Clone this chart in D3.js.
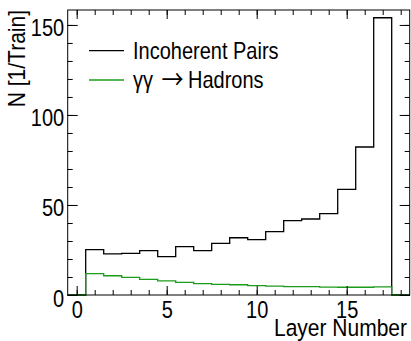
<!DOCTYPE html>
<html>
<head>
<meta charset="utf-8">
<script src="https://cdnjs.cloudflare.com/ajax/libs/d3/7.8.5/d3.min.js"></script>
<style>
  body { margin: 0; background: #fff; }
  text { font-family: "Liberation Sans", Arial, sans-serif; fill: #000; }
</style>
</head>
<body>
<script>
// Histogram contents per layer (bins 0..18)
var layers = [0, 1, 2, 3, 4, 5, 6, 7, 8, 9, 10, 11, 12, 13, 14, 15, 16, 17, 18];
var incoherent = [0, 25.2, 22.8, 23.1, 24.6, 21.3, 26.9, 24.6, 28.7, 31.8, 30.8, 35.2, 41.3, 42.2, 45.2, 58.7, 82.2, 154, 0];
var hadrons = [0, 11.9, 10.7, 9.8, 8.7, 7.8, 7.0, 6.3, 5.9, 5.7, 5.2, 4.9, 4.7, 4.6, 4.4, 4.3, 4.3, 4.5, 0];
var xTicks = [0, 5, 10, 15];
var yTicks = [0, 50, 100, 150];
var legendNames = ["Incoherent Pairs", "Hadrons"];

var svgWidth = 411;
var svgHeight = 341;
var margin = { top: 10, right: 1.3, bottom: 46, left: 67.7 };
var width = svgWidth - margin.left - margin.right;
var height = svgHeight - margin.top - margin.bottom;

var green = "#1a9c1a";
var stretch = 1.17; // text in the picture is a bit taller than wide

var svg = d3.select("body")
  .append("svg")
  .attr("width", svgWidth)
  .attr("height", svgHeight);

var chartGroup = svg.append("g")
  .attr("transform", `translate(${margin.left}, ${margin.top})`);

var xScale = d3.scaleLinear().domain([-0.5, 18.5]).range([0, width]);
var yScale = d3.scaleLinear().domain([0, 158.3]).range([height, 0]);

// step line through bin edges
function stepLine(values) {
  var pts = layers.map((l, i) => [l - 0.5, values[i]]);
  pts.push([layers[layers.length - 1] + 0.5, values[values.length - 1]]);
  return d3.line()
    .x(d => xScale(d[0]))
    .y(d => yScale(d[1]))
    .curve(d3.curveStepAfter)(pts);
}

chartGroup.append("path")
  .attr("d", stepLine(incoherent))
  .attr("fill", "none")
  .attr("stroke", "#000")
  .attr("stroke-width", 1.3);

chartGroup.append("path")
  .attr("d", stepLine(hadrons))
  .attr("fill", "none")
  .attr("stroke", green)
  .attr("stroke-width", 1.3);

// axes (ROOT style: ticks inside, mirrored)
var minorX = d3.range(0, 19);
var minorY = d3.range(0, 160, 10);

function styleAxis(g) {
  g.select(".domain").remove();
  g.selectAll("line").attr("stroke", "#000").attr("stroke-width", 1);
}

chartGroup.append("g")
  .attr("transform", `translate(0, ${height})`)
  .call(d3.axisBottom(xScale).tickValues(minorX).tickSize(-5).tickSizeOuter(0).tickFormat(""))
  .call(styleAxis);
var bottomAxis = chartGroup.append("g")
  .attr("transform", `translate(0, ${height})`)
  .call(d3.axisBottom(xScale).tickValues(xTicks).tickSize(-9).tickSizeOuter(0).tickFormat(d3.format("d")))
  .call(styleAxis);
bottomAxis.selectAll("text")
  .attr("y", null).attr("dy", null)
  .attr("transform", `translate(0, 23) scale(1, ${stretch})`)
  .style("font-size", "20px");

chartGroup.append("g")
  .call(d3.axisTop(xScale).tickValues(minorX).tickSize(-5).tickSizeOuter(0).tickFormat(""))
  .call(styleAxis);
chartGroup.append("g")
  .call(d3.axisTop(xScale).tickValues(xTicks).tickSize(-9).tickSizeOuter(0).tickFormat(""))
  .call(styleAxis);

chartGroup.append("g")
  .call(d3.axisLeft(yScale).tickValues(minorY).tickSize(-5).tickSizeOuter(0).tickFormat(""))
  .call(styleAxis);
var leftAxis = chartGroup.append("g")
  .call(d3.axisLeft(yScale).tickValues(yTicks).tickSize(-10).tickSizeOuter(0).tickFormat(d3.format("d")))
  .call(styleAxis);
leftAxis.selectAll("text")
  .attr("x", null).attr("dy", null)
  .attr("transform", `translate(-3.5, 11) scale(1, ${stretch})`)
  .style("font-size", "20px");

chartGroup.append("g")
  .attr("transform", `translate(${width}, 0)`)
  .call(d3.axisRight(yScale).tickValues(minorY).tickSize(-5).tickSizeOuter(0).tickFormat(""))
  .call(styleAxis);
chartGroup.append("g")
  .attr("transform", `translate(${width}, 0)`)
  .call(d3.axisRight(yScale).tickValues(yTicks).tickSize(-10).tickSizeOuter(0).tickFormat(""))
  .call(styleAxis);

// frame
chartGroup.append("rect")
  .attr("width", width)
  .attr("height", height)
  .attr("fill", "none")
  .attr("stroke", "#000")
  .attr("stroke-width", 1);

// axis titles
svg.append("text")
  .attr("transform", `translate(407, 336) scale(1, ${stretch})`)
  .attr("text-anchor", "end")
  .style("font-size", "21px")
  .text("Layer Number");

svg.append("text")
  .attr("transform", `translate(25, 10) rotate(-90) scale(1, ${stretch})`)
  .attr("text-anchor", "end")
  .style("font-size", "21px")
  .text("N [1/Train]");

// legend
var legendColors = ["#000", green];
var legend = svg.append("g");
legendNames.forEach(function(name, i) {
  var y = 50.7 + i * 29.3;
  legend.append("line")
    .attr("x1", 89).attr("x2", 124)
    .attr("y1", y).attr("y2", y)
    .attr("stroke", legendColors[i])
    .attr("stroke-width", 1.3);
  var t = legend.append("text")
    .attr("transform", `translate(133, ${y + 8}) scale(1, ${stretch})`)
    .style("font-size", "20px");
  if (i === 1) {
    t.append("tspan").text("\u03b3\u03b3");
    t.append("tspan")
      .attr("x", 28.5)
      .attr("dy", 1)
      .style("font-family", "Noto Sans CJK SC")
      .style("font-size", "22px")
      .text("\u2192");
    t.append("tspan").attr("x", 55).attr("dy", -1).text(name);
  } else {
    t.text(name);
  }
});
</script>
</body>
</html>
